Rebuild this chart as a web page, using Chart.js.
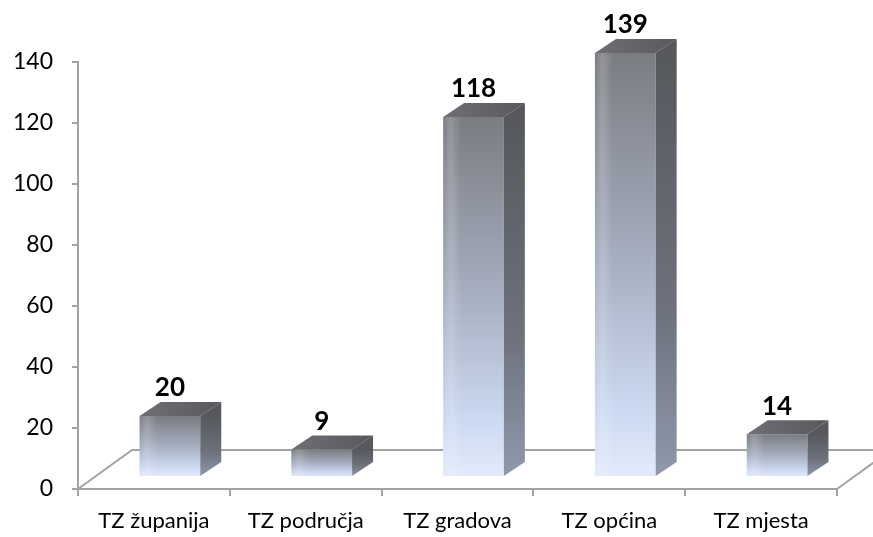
<!DOCTYPE html>
<html>
<head>
<meta charset="utf-8">
<script src="https://cdn.jsdelivr.net/npm/chart.js@4.4.1/dist/chart.umd.min.js"></script>
<style>
  html, body { margin: 0; padding: 0; background: #ffffff; }
  #wrap { width: 873px; height: 537px; }
</style>
</head>
<body>
<div id="wrap"><canvas id="chart" width="873" height="537"></canvas></div>
<script>
// Number of tourist boards by type
const categories = ['TZ županija', 'TZ područja', 'TZ gradova', 'TZ općina', 'TZ mjesta'];
const boardCounts = [20, 9, 118, 139, 14];
const axisMin = 0;
const axisMax = 140;
const axisStep = 20;

// Pseudo-3D geometry (pixels)
const FLOOR_DX = 54, FLOOR_DY = -39;   // depth of the floor plane
const SHIFT_X = 16, SHIFT_Y = -12;     // front face of each column inside the floor
const DEPTH_X = 21, DEPTH_Y = -14;     // column depth
const AXIS_COLOR = '#a3a3a3';
const FONT = 'Lato, "Open Sans", sans-serif';

function frontGradient(ctx, top, bottom) {
  const g = ctx.createLinearGradient(0, top, 0, bottom);
  g.addColorStop(0, '#7a7c81');
  g.addColorStop(0.45, '#a2aabb');
  g.addColorStop(0.85, '#cddaf2');
  g.addColorStop(1, '#e3ebfa');
  return g;
}

const floorPlugin = {
  id: 'floor3d',
  beforeDatasetsDraw(chart) {
    const { ctx, chartArea: a } = chart;
    ctx.save();
    ctx.strokeStyle = AXIS_COLOR;
    ctx.lineWidth = 2;
    ctx.beginPath();
    ctx.moveTo(a.left, a.bottom);
    ctx.lineTo(a.left + FLOOR_DX, a.bottom + FLOOR_DY);
    ctx.lineTo(a.right + FLOOR_DX, a.bottom + FLOOR_DY);
    ctx.lineTo(a.right, a.bottom);
    ctx.stroke();
    ctx.restore();
    // columns are drawn shifted into the floor
    ctx.save();
    ctx.translate(SHIFT_X, SHIFT_Y);
  },
  afterDatasetsDraw(chart) {
    const { ctx } = chart;
    const meta = chart.getDatasetMeta(0);
    meta.data.forEach((bar) => {
      const p = bar.getProps(['x', 'y', 'base', 'width'], true);
      const l = p.x - p.width / 2, r = p.x + p.width / 2;
      const t = p.y, b = p.base;
      // soft highlight near the left edge of the front face
      const hg = ctx.createLinearGradient(l, 0, r, 0);
      hg.addColorStop(0, 'rgba(255,255,255,0)');
      hg.addColorStop(0.12, 'rgba(255,255,255,0.18)');
      hg.addColorStop(0.3, 'rgba(255,255,255,0)');
      hg.addColorStop(1, 'rgba(255,255,255,0)');
      ctx.fillStyle = hg;
      ctx.fillRect(l, t, r - l, b - t);
      // side face
      const sg = ctx.createLinearGradient(0, t, 0, b);
      sg.addColorStop(0, '#56585d');
      sg.addColorStop(0.6, '#6c717b');
      sg.addColorStop(1, '#8f99ad');
      ctx.fillStyle = sg;
      ctx.beginPath();
      ctx.moveTo(r, t);
      ctx.lineTo(r + DEPTH_X, t + DEPTH_Y);
      ctx.lineTo(r + DEPTH_X, b + DEPTH_Y);
      ctx.lineTo(r, b);
      ctx.closePath();
      ctx.fill();
      // top face
      const tg = ctx.createLinearGradient(l, t, r + DEPTH_X, t + DEPTH_Y);
      tg.addColorStop(0, '#6e7075');
      tg.addColorStop(1, '#58595d');
      ctx.fillStyle = tg;
      ctx.beginPath();
      ctx.moveTo(l, t);
      ctx.lineTo(l + DEPTH_X, t + DEPTH_Y);
      ctx.lineTo(r + DEPTH_X, t + DEPTH_Y);
      ctx.lineTo(r, t);
      ctx.closePath();
      ctx.fill();
    });
    // value labels above each column
    ctx.fillStyle = '#000000';
    ctx.font = 'bold 26px ' + FONT;
    ctx.textAlign = 'center';
    ctx.textBaseline = 'middle';
    meta.data.forEach((bar, i) => {
      const p = bar.getProps(['x', 'y'], true);
      ctx.fillText(String(boardCounts[i]), p.x, p.y + DEPTH_Y - 14);
    });
    ctx.restore();
  }
};

new Chart(document.getElementById('chart'), {
  type: 'bar',
  data: {
    labels: categories,
    datasets: [{
      data: boardCounts,
      borderWidth: 0,
      categoryPercentage: 1,
      barPercentage: 0.4,
      backgroundColor: (c) => {
        const ys = c.chart.scales.y;
        if (!ys || c.raw === undefined) return '#a2aabb';
        const top = ys.getPixelForValue(c.raw);
        const bottom = ys.getPixelForValue(0);
        if (!Number.isFinite(top) || !Number.isFinite(bottom) || top === bottom) return '#a2aabb';
        return frontGradient(c.chart.ctx, top, bottom);
      }
    }]
  },
  options: {
    responsive: false,
    animation: false,
    layout: { padding: { top: 62, right: 36, bottom: 0, left: 0 } },
    plugins: { legend: { display: false }, tooltip: { enabled: false } },
    scales: {
      x: {
        grid: { offset: true, drawOnChartArea: false, drawTicks: true, tickLength: 7, color: AXIS_COLOR, lineWidth: 2 },
        border: { color: AXIS_COLOR, width: 2 },
        ticks: { color: '#000000', font: { family: FONT, size: 22 }, padding: 12, maxRotation: 0 },
        afterFit: (s) => { s.height = 48; }
      },
      y: {
        min: axisMin,
        max: axisMax,
        grid: { drawOnChartArea: false, drawTicks: true, tickLength: 6, color: AXIS_COLOR, lineWidth: 2 },
        border: { color: AXIS_COLOR, width: 2 },
        ticks: { stepSize: axisStep, color: '#000000', font: { family: FONT, size: 23 }, padding: 19 },
        afterFit: (s) => { s.width = 78; }
      }
    }
  },
  plugins: [floorPlugin]
});
</script>
</body>
</html>
